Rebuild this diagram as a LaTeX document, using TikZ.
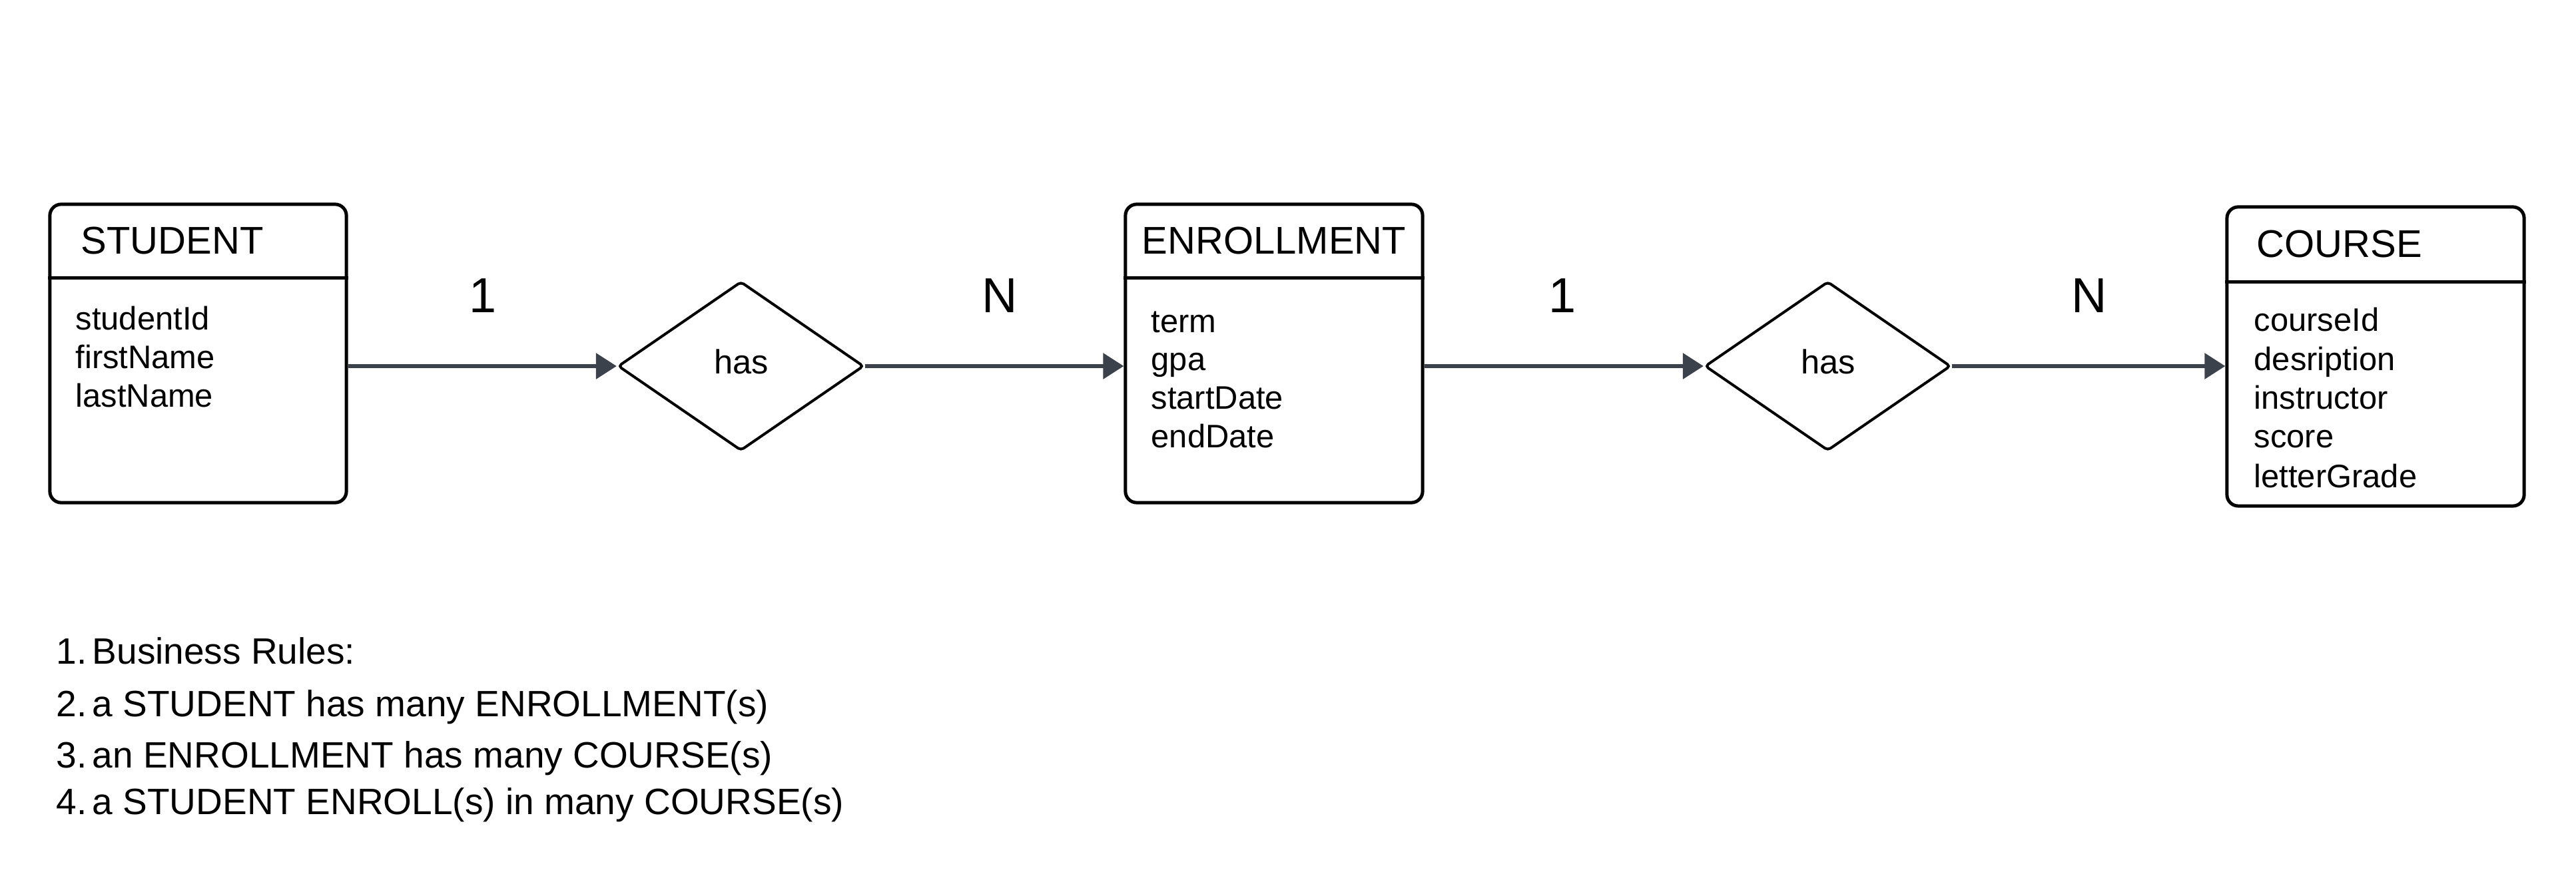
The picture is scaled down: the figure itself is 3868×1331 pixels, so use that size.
\documentclass[tikz,border=0pt]{standalone}
\usepackage{fontspec}
\setmainfont{Liberation Sans}
\usetikzlibrary{shapes.geometric,arrows.meta}
\definecolor{conn}{HTML}{3C424B}
\begin{document}
\begin{tikzpicture}[x=0.01cm,y=-0.01cm,
  entity/.style={draw=black,line width=0.05cm,rounded corners=0.17cm,inner sep=0,fill=white},
  rel/.style={diamond,draw=black,line width=0.04cm,rounded corners=0.05cm,inner sep=0,
    minimum width=3.69cm,minimum height=2.54cm},
  rtext/.style={anchor=base,inner sep=0,font=\fontsize{14.4}{17}\selectfont},
  etitle/.style={anchor=base west,inner sep=0,font=\fontsize{16.5}{19}\selectfont},
  attr/.style={anchor=base west,inner sep=0,font=\fontsize{13.9}{16}\selectfont},
  card/.style={anchor=base,inner sep=0,font=\fontsize{21}{25}\selectfont},
  brule/.style={anchor=base west,inner sep=0,font=\fontsize{15.65}{18}\selectfont},
  link/.style={draw=conn,line width=0.06cm,-{Triangle[length=0.31cm,width=0.38cm]}},
  divider/.style={draw=black,line width=0.05cm}]
\fill[white] (0,0) rectangle (3868,1331);
\useasboundingbox (0,0) rectangle (3868,1331);

% entities
\node[entity,minimum width=4.45cm,minimum height=4.48cm] (s) at (297.5,531) {};
\node[entity,minimum width=4.46cm,minimum height=4.48cm] (e) at (1913,531) {};
\node[entity,minimum width=4.46cm,minimum height=4.49cm] (c) at (3567,535.5) {};
\draw[divider] (s.west |- 0,418) -- (s.east |- 0,418);
\draw[divider] (e.west |- 0,418) -- (e.east |- 0,418);
\draw[divider] (c.west |- 0,424) -- (c.east |- 0,424);

\node[etitle] (st) at (121,382) {STUDENT};
\node[etitle] (et) at (1714,382) {ENROLLMENT};
\node[etitle] (ct) at (3388,387) {COURSE};

\node[attr] (sa1) at (113,496) {studentId};
\node[attr] (sa2) at (113,554) {firstName};
\node[attr] (sa3) at (113,612) {lastName};

\node[attr] (ea1) at (1728,500) {term};
\node[attr] (ea2) at (1728,557) {gpa};
\node[attr] (ea3) at (1728,615) {startDate};
\node[attr] (ea4) at (1728,673) {endDate};

\node[attr] (ca1) at (3384,498) {courseId};
\node[attr] (ca2) at (3384,557) {desription};
\node[attr] (ca3) at (3384,615) {instructor};
\node[attr] (ca4) at (3384,673) {score};
\node[attr] (ca5) at (3384,733) {letterGrade};

% relationships
\node[rel] (d1) at (1112.5,550) {};
\node[rel] (d2) at (2744.5,550) {};
\node[rtext] (h1) at (1113,562) {has};
\node[rtext] (h2) at (2745,562) {has};

% connectors
\draw[link] (s.east |- d1.west) -- (d1.west);
\draw[link] (d1.east) -- (e.west |- d1.east);
\draw[link] (e.east |- d2.west) -- (d2.west);
\draw[link] (d2.east) -- (c.west |- d2.east);

% cardinalities
\node[card] (c1) at (725,470) {1};
\node[card] (c2) at (1501,470) {N};
\node[card] (c3) at (2346,470) {1};
\node[card] (c4) at (3137,470) {N};

% business rules
\node[brule] (n1) at (84,998) {1.};
\node[brule] (r1) at (138,998) {Business Rules:};
\node[brule] (n2) at (84,1077) {2.};
\node[brule] (r2) at (138,1077) {a STUDENT has many ENROLLMENT(s)};
\node[brule] (n3) at (84,1153) {3.};
\node[brule] (r3) at (138,1153) {an ENROLLMENT has many COURSE(s)};
\node[brule] (n4) at (84,1223) {4.};
\node[brule] (r4) at (138,1223) {a STUDENT ENROLL(s) in many COURSE(s)};
\end{tikzpicture}
\end{document}
